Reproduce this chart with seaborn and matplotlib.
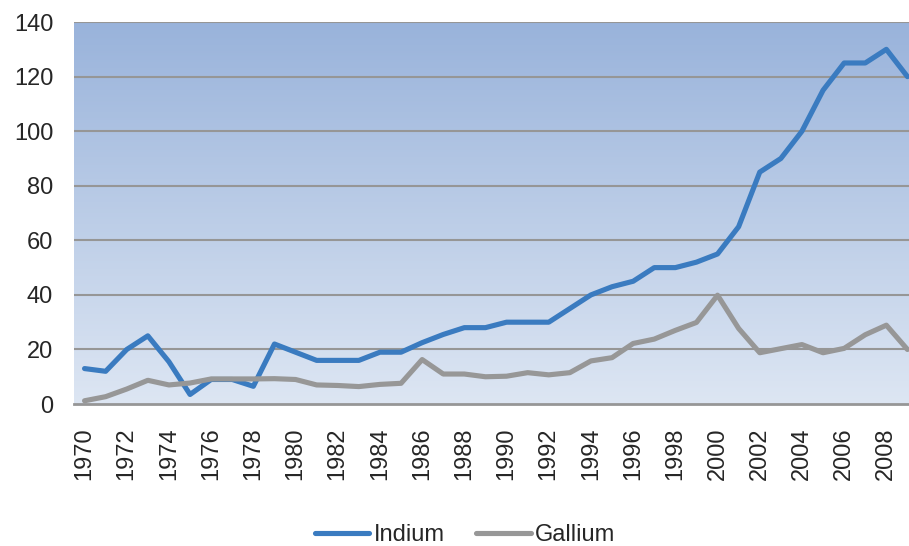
import numpy as np
import pandas as pd
import seaborn as sns
import matplotlib.pyplot as plt
from matplotlib.colors import LinearSegmentedColormap

# =======================
# Data
# =======================
years = list(range(1970, 2010))
indium = [13, 12, 20, 25, 15.5, 3.5, 9, 9, 6.5, 22,
          19, 16, 16, 16, 19, 19, 22.5, 25.5, 28, 28,
          30, 30, 30, 35, 40, 43, 45, 50, 50, 52,
          55, 65, 85, 90, 100, 115, 125, 125, 130, 120]
gallium = [1.2, 2.7, 5.5, 8.7, 7, 7.7, 9.2, 9.2, 9.2, 9.3,
           9, 7, 6.8, 6.4, 7.2, 7.6, 16.3, 11, 11, 10,
           10.2, 11.5, 10.7, 11.5, 15.8, 17, 22.2, 23.8, 27, 29.9,
           39.9, 27.7, 18.8, 20.3, 21.8, 18.8, 20.4, 25.4, 28.9, 20]
series_names = ["Indium", "Gallium"]
series_colors = ["#3a7bc0", "#979797"]
ytick_values = [0, 20, 40, 60, 80, 100, 120, 140]
xtick_years = years[::2]

df = pd.DataFrame({"Year": years * 2,
                   "Value": indium + gallium,
                   "Metal": ["Indium"] * len(years) + ["Gallium"] * len(years)})

# =======================
# Figure
# =======================
sns.set_style("white")
plt.rcParams['font.family'] = ['Liberation Sans', 'DejaVu Sans']

fig = plt.figure(figsize=(9.09, 5.46), dpi=100)
ax = fig.add_axes([0.0814, 0.26, 0.9285, 0.6996])

# gradient plot area background
grad_cmap = LinearSegmentedColormap.from_list("bg", ["#dde6f3", "#99b3db"])
ax.imshow(np.linspace(0, 1, 256).reshape(-1, 1), cmap=grad_cmap, origin="lower",
          extent=[0, 1, 0, 1], transform=ax.transAxes, aspect="auto", zorder=0)

for y in ytick_values[1:]:
    ax.axhline(y, color="#969696", lw=1.5, zorder=1)

sns.lineplot(data=df, x="Year", y="Value", hue="Metal", hue_order=series_names,
             palette=series_colors, linewidth=3.7, ax=ax, zorder=3, legend=False)

ax.set_xlim(1969.5, 2009.5)
ax.set_ylim(0, 140)
ax.set_xticks(xtick_years)
ax.set_xticklabels([str(y) for y in xtick_years], rotation=90, fontsize=17)
ax.set_yticks(ytick_values)
ax.set_yticklabels([str(v) for v in ytick_values], fontsize=17)
ax.tick_params(axis="y", length=0, pad=15)
ax.tick_params(axis="x", length=0, pad=17)
ax.set_xlabel("")
ax.set_ylabel("")
for side in ["left", "right", "top"]:
    ax.spines[side].set_visible(False)
ax.spines["bottom"].set_color("#969696")
ax.spines["bottom"].set_linewidth(2)

handles = [plt.Line2D([], [], color=c, lw=3.7) for c in series_colors]
fig.legend(handles, series_names, loc="center", bbox_to_anchor=(465 / 909, 1 - 535 / 546),
           ncol=2, frameon=False, fontsize=17, handlelength=2.3, handletextpad=0.17,
           columnspacing=1.35)

fig.savefig("out.png", dpi=100)
